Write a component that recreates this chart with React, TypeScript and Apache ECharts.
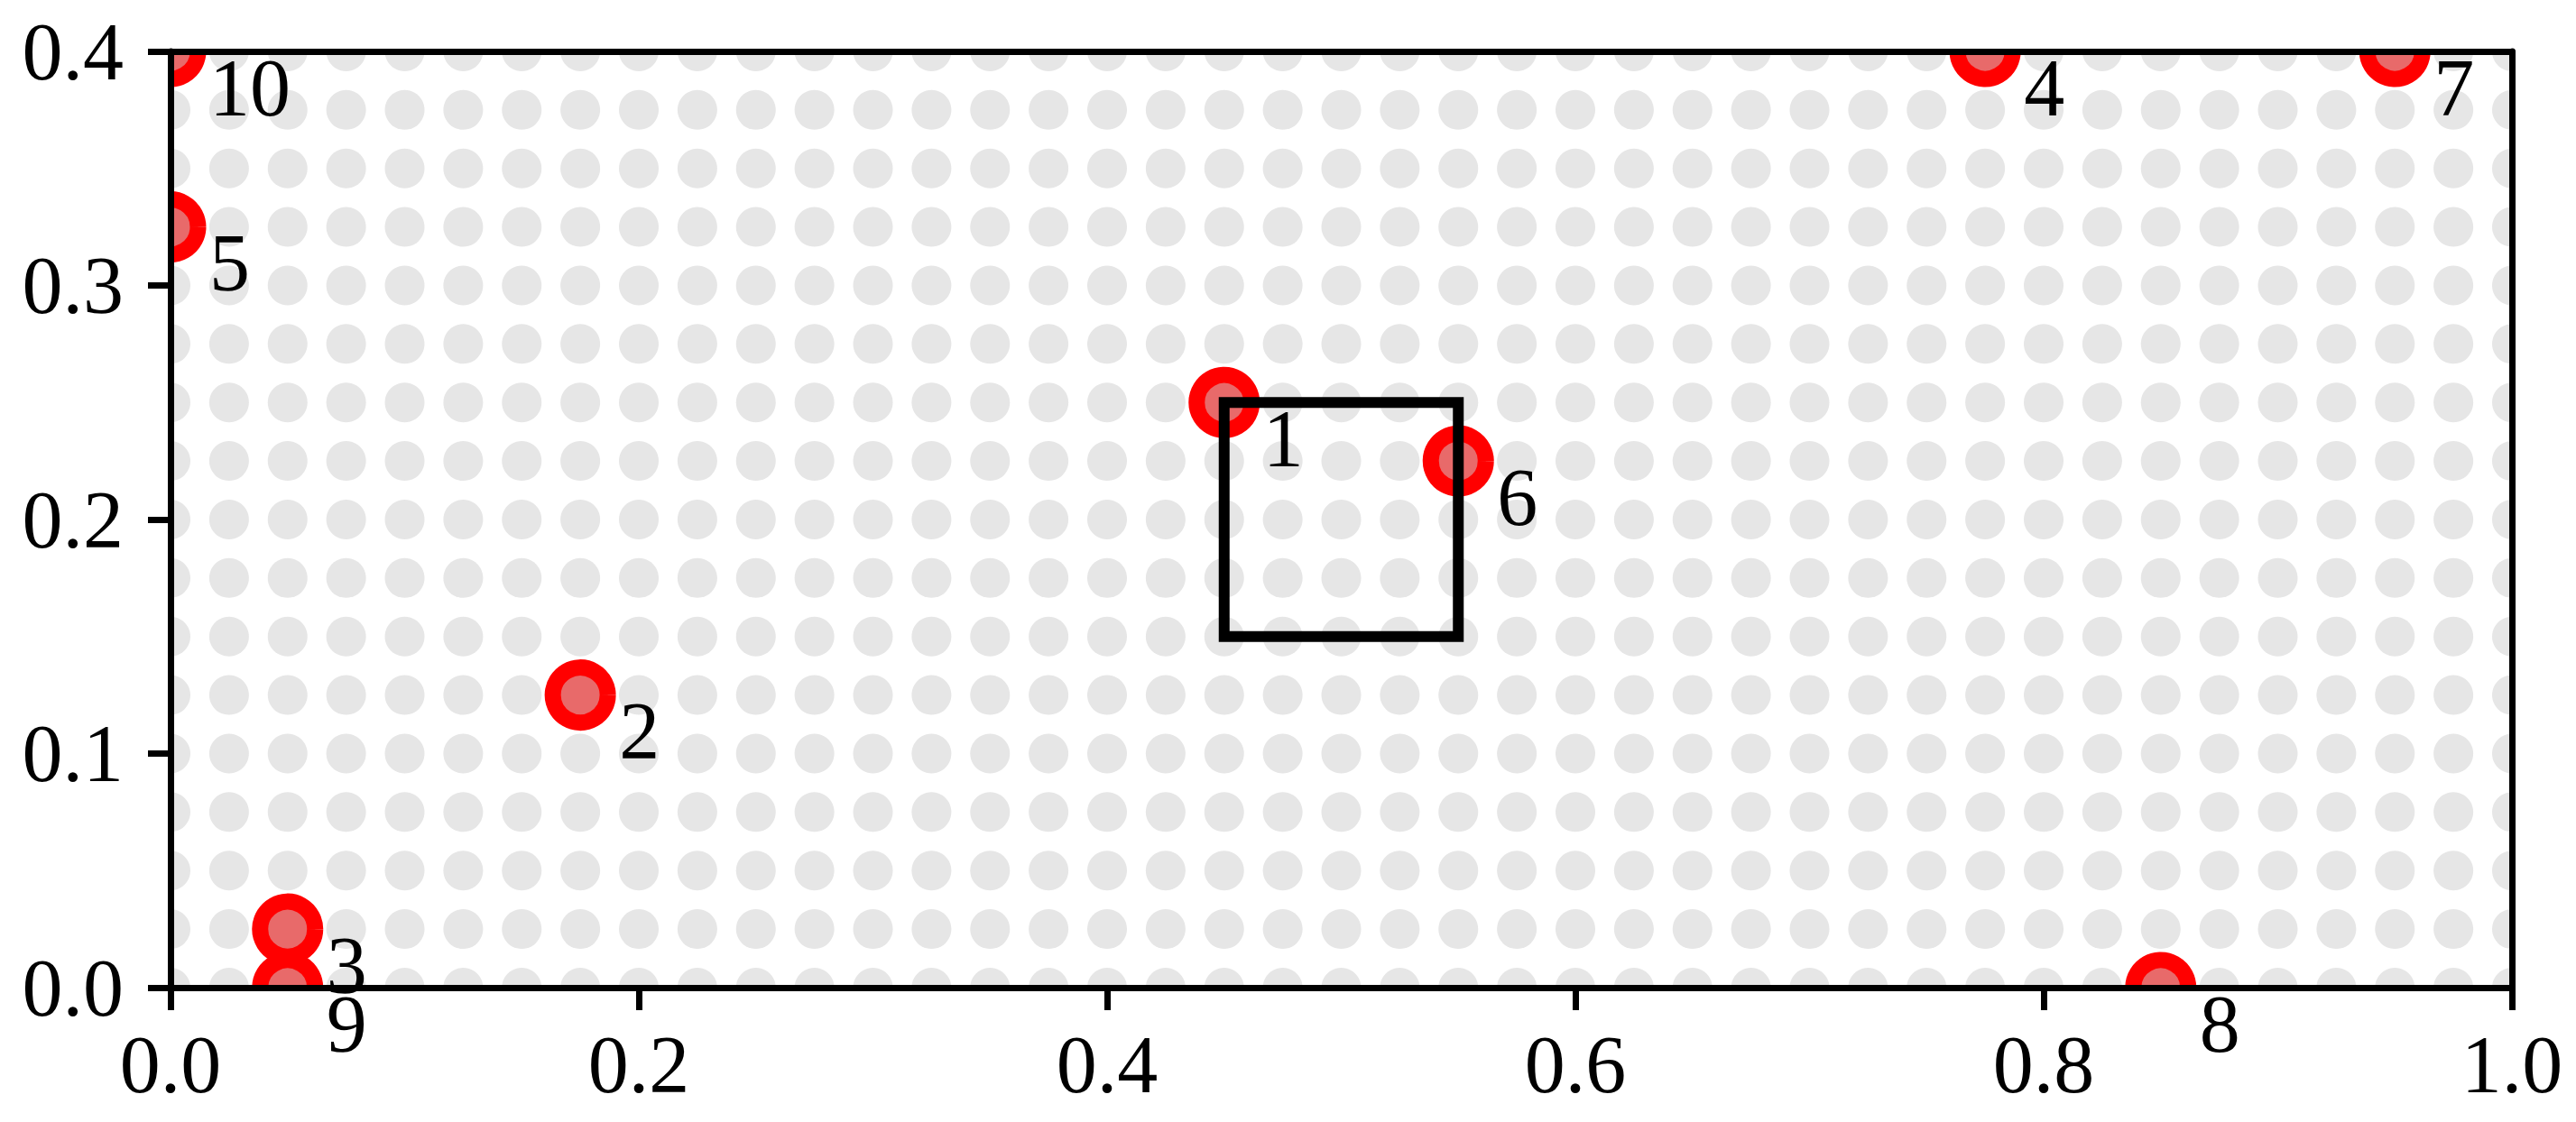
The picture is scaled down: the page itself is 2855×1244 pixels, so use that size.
import React, { useEffect, useRef } from "react";
import * as echarts from "echarts";

const pointX = [0.45, 0.175, 0.05, 0.775, 0.0, 0.55, 0.95, 0.85, 0.05, 0.0];
const pointY = [0.25, 0.125, 0.025, 0.4, 0.325, 0.225, 0.4, 0.0, 0.0, 0.4];
const pointLabels = ["1", "2", "3", "4", "5", "6", "7", "8", "9", "10"];
const boxX = [0.45, 0.55];
const boxY = [0.15, 0.25];
const xRange = [0, 1];
const yRange = [0, 0.4];
const xInterval = 0.2;
const yInterval = 0.1;
const latticeStep = 0.025;

const FONT = "Liberation Serif";

export default function App() {
  const ref = useRef<HTMLDivElement>(null);

  useEffect(() => {
    if (!ref.current) return;
    const chart = echarts.init(ref.current, undefined, { renderer: "svg" });

    const lattice: number[][] = [];
    const nx = Math.round((xRange[1] - xRange[0]) / latticeStep);
    const ny = Math.round((yRange[1] - yRange[0]) / latticeStep);
    for (let i = 0; i <= nx; i++) {
      for (let j = 0; j <= ny; j++) {
        lattice.push([+(i * latticeStep).toFixed(4), +(j * latticeStep).toFixed(4)]);
      }
    }
    const points = pointX.map((x, i) => [x, pointY[i]]);

    const axisLineStyle = { color: "#000", width: 7 };
    const fmt = (v: number) => v.toFixed(1);

    chart.setOption({
      animation: false,
      backgroundColor: "#fff",
      grid: { left: 189, right: 71, top: 57, bottom: 149, outerBoundsMode: "none", containLabel: false },
      xAxis: [
        {
          type: "value",
          min: xRange[0],
          max: xRange[1],
          interval: xInterval,
          position: "bottom",
          z: 10,
          axisLine: { show: true, onZero: false, lineStyle: axisLineStyle },
          axisTick: { show: true, length: 25, inside: false, lineStyle: { color: "#000", width: 7 } },
          axisLabel: { show: true, formatter: fmt, fontSize: 90, fontFamily: FONT, color: "#000", margin: 40 },
          splitLine: { show: false },
        },
        {
          type: "value",
          min: xRange[0],
          max: xRange[1],
          position: "top",
          z: 10,
          axisLine: { show: true, onZero: false, lineStyle: axisLineStyle },
          axisTick: { show: false },
          axisLabel: { show: false },
          splitLine: { show: false },
        },
      ],
      yAxis: [
        {
          type: "value",
          min: yRange[0],
          max: yRange[1],
          interval: yInterval,
          position: "left",
          z: 10,
          axisLine: { show: true, onZero: false, lineStyle: axisLineStyle },
          axisTick: { show: true, length: 25, inside: false, lineStyle: { color: "#000", width: 7 } },
          axisLabel: { show: true, formatter: fmt, fontSize: 90, fontFamily: FONT, color: "#000", margin: 52 },
          splitLine: { show: false },
        },
        {
          type: "value",
          min: yRange[0],
          max: yRange[1],
          position: "right",
          z: 10,
          axisLine: { show: true, onZero: false, lineStyle: axisLineStyle },
          axisTick: { show: false },
          axisLabel: { show: false },
          splitLine: { show: false },
        },
      ],
      series: [
        {
          type: "custom",
          name: "lattice",
          xAxisIndex: 0,
          yAxisIndex: 0,
          clip: true,
          z: 1,
          data: lattice,
          renderItem: (params: any, api: any) => {
            const p = api.coord([api.value(0), api.value(1)]);
            return {
              type: "circle",
              shape: { cx: p[0], cy: p[1], r: 22 },
              style: { fill: "#e6e6e6" },
            };
          },
        },
        {
          type: "custom",
          name: "points",
          xAxisIndex: 0,
          yAxisIndex: 0,
          clip: true,
          z: 2,
          data: points,
          renderItem: (params: any, api: any) => {
            const p = api.coord([api.value(0), api.value(1)]);
            return {
              type: "circle",
              shape: { cx: p[0], cy: p[1], r: 30.5 },
              style: { fill: "#e86a6a", stroke: "#ff0000", lineWidth: 18 },
            };
          },
        },
        {
          type: "custom",
          name: "box",
          xAxisIndex: 0,
          yAxisIndex: 0,
          clip: false,
          z: 3,
          dimensions: ["x0", "y0", "x1", "y1"],
          encode: { x: [0, 2], y: [1, 3] },
          data: [[boxX[0], boxY[0], boxX[1], boxY[1]]],
          renderItem: (params: any, api: any) => {
            const tl = api.coord([api.value(0), api.value(3)]);
            const br = api.coord([api.value(2), api.value(1)]);
            return {
              type: "rect",
              shape: { x: tl[0], y: tl[1], width: br[0] - tl[0], height: br[1] - tl[1] },
              style: { fill: "none", stroke: "#000", lineWidth: 12 },
            };
          },
        },
        {
          type: "custom",
          name: "labels",
          xAxisIndex: 0,
          yAxisIndex: 0,
          clip: false,
          z: 12,
          data: points,
          renderItem: (params: any, api: any) => {
            const p = api.coord([api.value(0), api.value(1)]);
            return {
              type: "text",
              z2: 100,
              x: p[0] + 43,
              y: p[1] + 40,
              style: {
                text: pointLabels[params.dataIndex],
                fill: "#000",
                fontSize: 90,
                fontFamily: FONT,
                align: "left",
                verticalAlign: "middle",
              },
            };
          },
        },
      ],
    });

    return () => chart.dispose();
  }, []);

  return (
    <div
      ref={ref}
      style={{ position: "fixed", left: 0, top: 0, width: 2855, height: 1244, background: "#fff" }}
    />
  );
}
